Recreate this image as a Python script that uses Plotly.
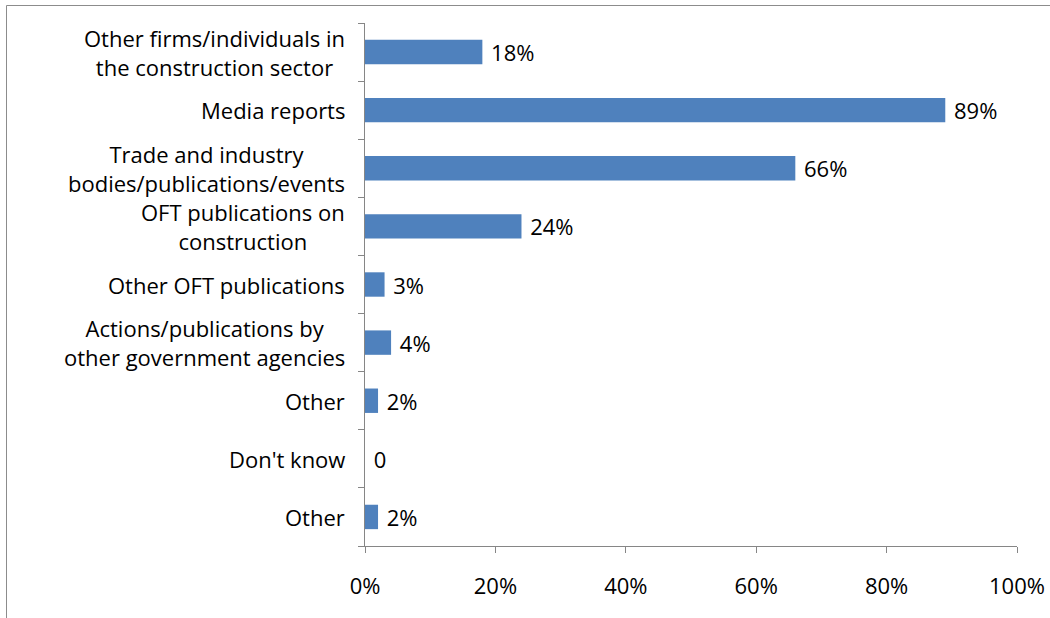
import plotly.graph_objects as go

# Categories listed top to bottom
categories = [
    "Other firms/individuals in<br>the construction sector",
    "Media reports",
    "Trade and industry<br>bodies/publications/events",
    "OFT publications on<br>construction",
    "Other OFT publications",
    "Actions/publications by<br>other government agencies",
    "Other",
    "Don't know",
    "Other",
]
values = [18, 89, 66, 24, 3, 4, 2, 0, 2]
value_labels = ["18%", "89%", "66%", "24%", "3%", "4%", "2%", "0", "2%"]
x_ticks = [0, 20, 40, 60, 80, 100]
x_tick_labels = ["0%", "20%", "40%", "60%", "80%", "100%"]

FONT = "Open Sans"
FSIZE = 22
BAR = "#4f81bd"
AXIS = "#868686"

n = len(categories)
positions = list(range(n))

fig = go.Figure(
    go.Bar(
        x=values,
        y=positions,
        orientation="h",
        marker=dict(color=BAR, line=dict(width=0)),
        width=0.42,
        text=value_labels,
        texttemplate="\u00a0%{text}",
        textposition="outside",
        constraintext="none",
        textfont=dict(family=FONT, size=FSIZE, color="#000000"),
        cliponaxis=False,
        hoverinfo="skip",
    )
)

# Category labels drawn as centred text blocks to the left of the axis
for pos, label in zip(positions, categories):
    fig.add_annotation(
        x=0, xref="paper", xanchor="right", xshift=-18,
        y=pos, yref="y", yanchor="middle",
        text=label, align="center", showarrow=False,
        font=dict(family=FONT, size=FSIZE, color="#000000"),
    )

# Outer chart border
L, R, T, B = 365, 1017, 23, 546
W, H = R - L, B - T
fig.add_shape(
    type="rect", xref="paper", yref="paper",
    x0=(6.5 - L) / W, x1=(1060 - L) / W,
    y0=(B - 630) / H, y1=(B - 5.5) / H,
    line=dict(color="#8c8c8c", width=1), layer="below",
)

fig.update_layout(
    width=1050, height=618,
    margin=dict(l=L, r=1050 - R, t=T, b=618 - B, autoexpand=False),
    paper_bgcolor="white", plot_bgcolor="white",
    showlegend=False,
    xaxis=dict(
        range=[0, 100],
        tickvals=x_ticks, ticktext=x_tick_labels,
        ticks="outside", ticklen=6, tickcolor=AXIS, tickwidth=1,
        showline=True, linecolor=AXIS, linewidth=1,
        showgrid=False, zeroline=False, automargin=False,
        ticklabelstandoff=15,
        tickfont=dict(family=FONT, size=FSIZE, color="#000000"),
    ),
    yaxis=dict(
        range=[n - 0.5, -0.5],
        tickvals=positions, ticktext=[""] * n,
        ticks="", showticklabels=False,
        showline=True, linecolor=AXIS, linewidth=1,
        showgrid=False, zeroline=False, automargin=False,
        minor=dict(
            tickvals=[p - 0.5 for p in positions] + [n - 0.5],
            ticks="outside", ticklen=6, tickcolor=AXIS, tickwidth=1,
            showgrid=False,
        ),
    ),
)

fig.write_html("out.html")
